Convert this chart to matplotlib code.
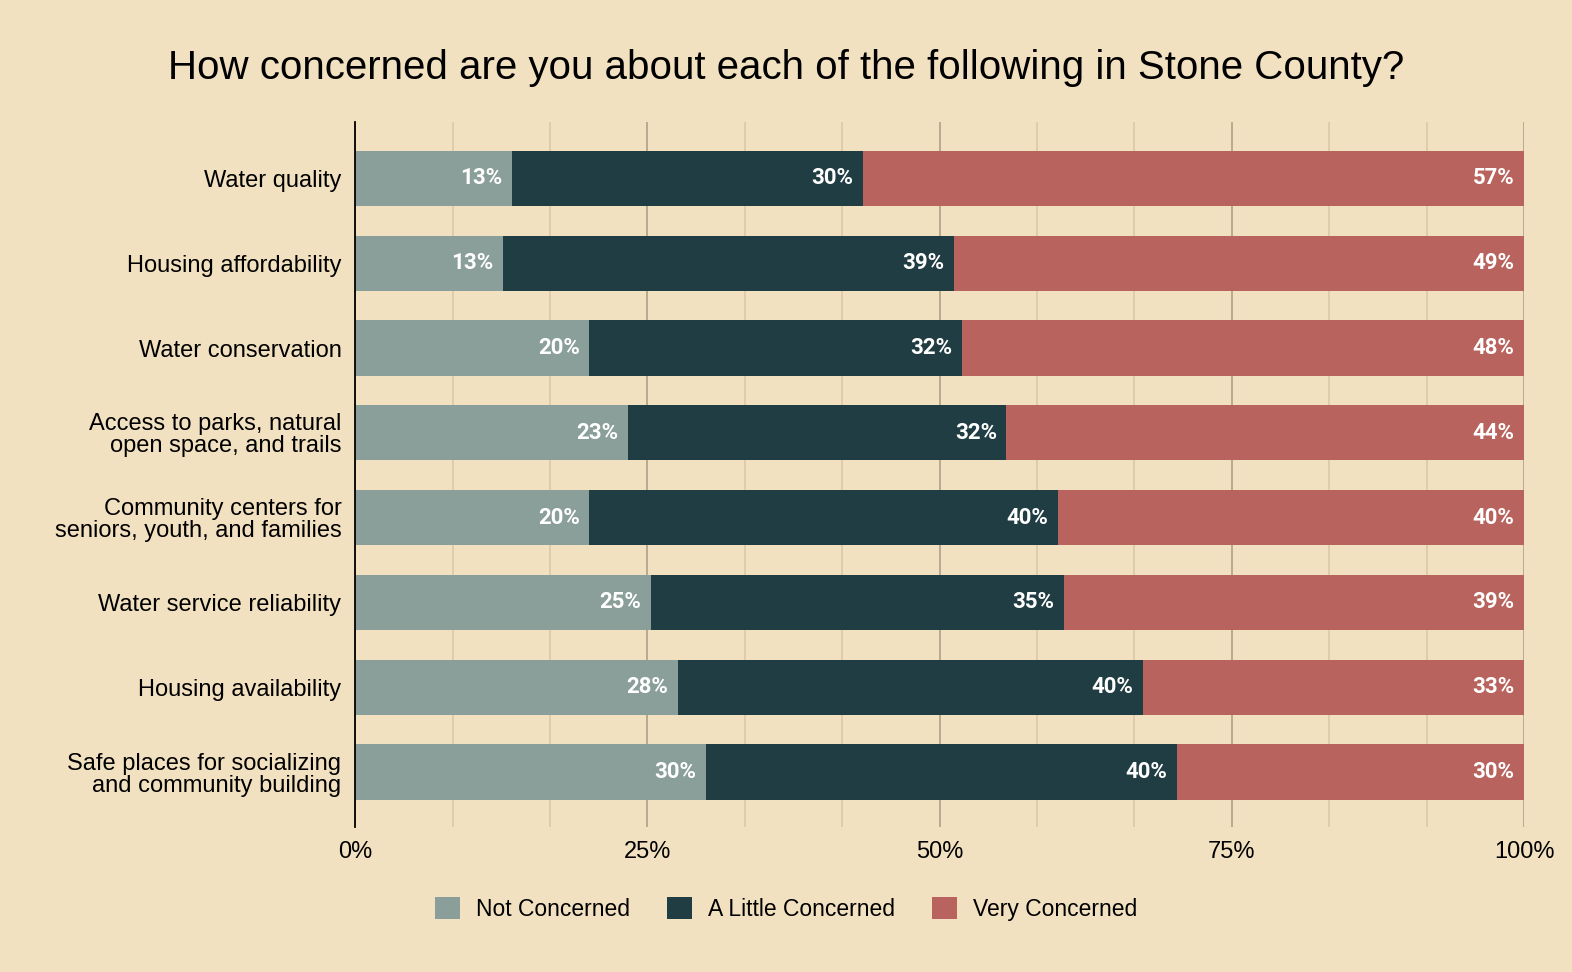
import matplotlib
matplotlib.use("Agg")
import matplotlib.pyplot as plt
import numpy as np

categories = ["Water quality", "Housing affordability", "Water conservation",
              "Access to parks, natural\nopen space, and trails",
              "Community centers for\nseniors, youth, and families",
              "Water service reliability", "Housing availability",
              "Safe places for socializing\nand community building"]
not_concerned = [13.4, 12.6, 20.0, 23.3, 20.0, 25.3, 27.6, 30.0]
little = [30.0, 38.6, 31.9, 32.4, 40.1, 35.3, 39.8, 40.3]
very = [56.6, 48.8, 48.1, 44.3, 39.9, 39.4, 32.6, 29.7]
series_names = ["Not Concerned", "A Little Concerned", "Very Concerned"]
colors = ["#8a9f99", "#1f3d42", "#b8635d"]
bg = "#f2e1c0"

plt.rcParams['font.family'] = ['Liberation Sans', 'DejaVu Sans']
fig = plt.figure(figsize=(15.72, 9.72), dpi=100, facecolor=bg)
ax = fig.add_axes([0.226, 0.149, 0.7435, 0.725], facecolor=bg)
y = np.arange(len(categories))
left = np.zeros(len(categories))
for vals, name, c in zip([not_concerned, little, very], series_names, colors):
    vals = np.array(vals)
    ax.barh(y, vals, left=left, height=0.65, color=c, label=name, zorder=3)
    for yi, (l, v) in enumerate(zip(left, vals)):
        ax.text(l + v - 0.8, yi, f"{round(v):.0f}%", ha="right", va="center",
                color="white", fontsize=16, fontweight="bold", zorder=4,
                family=['Roboto', 'DejaVu Sans'])
    left = left + vals

ax.set_xlim(0, 100)
ax.set_ylim(len(categories) - 1 + 0.65, -0.66)
ax.set_yticks(y)
ax.set_yticklabels(categories, fontsize=17, linespacing=1.0)
ax.set_xticks([0, 25, 50, 75, 100])
ax.set_xticklabels(["0%", "25%", "50%", "75%", "100%"], fontsize=17)
for x in np.arange(0, 101, 100 / 12):
    major = abs((x % 25)) < 1e-6 or abs(x % 25 - 25) < 1e-6
    ax.axvline(x, color="#b5a58c" if major else "#dccaa9", lw=1.3, zorder=1)
ax.tick_params(length=0, pad=10)
for s in ["top", "right", "bottom"]:
    ax.spines[s].set_visible(False)
ax.spines["left"].set_color("black")
ax.spines["left"].set_linewidth(1.3)
ax.spines["left"].set_zorder(5)

fig.suptitle("How concerned are you about each of the following in Stone County?",
             fontsize=29, y=0.93, x=0.5, va="center")
fig.legend(*ax.get_legend_handles_labels(), loc="center", ncol=3,
           bbox_to_anchor=(0.5, 0.065), frameon=False, fontsize=16.5,
           handlelength=1.1, handleheight=1.1, columnspacing=1.6, handletextpad=0.7)
fig.savefig("out.png", dpi=100, facecolor=bg)
